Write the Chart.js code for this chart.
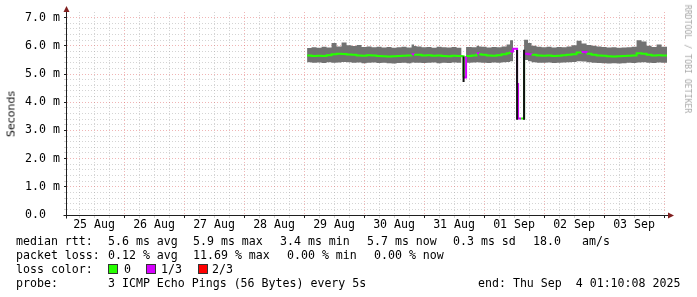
<!DOCTYPE html>
<html><head><meta charset="utf-8">
<script src="https://cdn.jsdelivr.net/npm/chart.js@4.4.1/dist/chart.umd.min.js"></script>
<style>
html,body{margin:0;padding:0;background:#fff;}
#wrap{position:relative;width:697px;height:297px;overflow:hidden;background:#fff;}
#box{position:absolute;left:0;top:0;width:697px;height:297px;}
.t{position:absolute;font-family:'DejaVu Sans Mono',monospace;font-size:11.6px;line-height:14px;color:#000;white-space:pre;}
.sw{position:absolute;width:8px;height:8px;border:1px solid #333;}
#ytitle{position:absolute;left:11px;top:114px;transform:translate(-50%,-50%) rotate(-90deg);font-family:'DejaVu Sans',sans-serif;font-size:11px;color:#111;white-space:nowrap;}
#wm{position:absolute;left:688px;top:59px;transform:translate(-50%,-50%) rotate(90deg);font-family:'DejaVu Sans Mono',monospace;font-size:8.2px;color:#a8a8a8;white-space:pre;}
</style></head>
<body>
<div id="wrap">
<div id="box"><canvas id="c"></canvas></div>
<div id="ytitle">Seconds</div>
<div id="wm">RRDTOOL / TOBI OETIKER</div>
<div class="t" style="left:16px;top:234px">median rtt:</div>
<div class="t" style="left:108px;top:234px">5.6 ms avg</div>
<div class="t" style="left:193px;top:234px">5.9 ms max</div>
<div class="t" style="left:280px;top:234px">3.4 ms min</div>
<div class="t" style="left:367px;top:234px">5.7 ms now</div>
<div class="t" style="left:453px;top:234px">0.3 ms sd</div>
<div class="t" style="left:533px;top:234px">18.0</div>
<div class="t" style="left:582px;top:234px">am/s</div>
<div class="t" style="left:16px;top:248px">packet loss:</div>
<div class="t" style="left:108px;top:248px">0.12 % avg</div>
<div class="t" style="left:193px;top:248px">11.69 % max</div>
<div class="t" style="left:287px;top:248px">0.00 % min</div>
<div class="t" style="left:374px;top:248px">0.00 % now</div>
<div class="t" style="left:16px;top:262px">loss color:</div>
<div class="sw" style="left:108px;top:264px;background:#26ff00"></div>
<div class="t" style="left:124px;top:262px">0</div>
<div class="sw" style="left:146px;top:264px;background:#d600ff"></div>
<div class="t" style="left:161px;top:262px">1/3</div>
<div class="sw" style="left:198px;top:264px;background:#ff0000"></div>
<div class="t" style="left:212px;top:262px">2/3</div>
<div class="t" style="left:16px;top:276px">probe:</div>
<div class="t" style="left:108px;top:276px">3 ICMP Echo Pings (56 Bytes) every 5s</div>
<div class="t" style="left:478px;top:276px">end: Thu Sep  4 01:10:08 2025</div>
</div>
<script>
// time axis: hours since 25 Aug 00:00
const hours = [97.2,99,101,103,105,107,109,111,113,115,117,119,121,123,125,127,129,131,133,135,137,139,140,141,143,145,147,149,151,153,155,157,159,159.8,160.8,163,165,166,167,169,171,173,175,177,178.4,179.6,181.2,181.6,182.8,184,185.6,187,189,191,193,195,197,199,201,203,205,207,209,211,213,215,217,219,221,223,225,227,229,231,233,235,237,239,241.2];
const smokeHigh = [5.92,5.95,5.93,5.97,5.94,6.10,5.98,6.12,6.02,5.99,6.03,5.96,5.98,5.95,5.97,5.94,5.96,5.93,5.95,5.97,5.94,6.05,5.99,5.98,5.95,5.96,5.93,5.97,5.95,5.94,5.96,5.93,5.95,null,5.96,5.95,6.00,5.98,5.97,5.94,5.96,5.95,5.98,6.05,6.20,6.40,null,null,null,6.22,6.10,6.00,5.97,5.95,5.97,5.94,5.96,5.95,5.98,6.02,6.18,6.08,6.03,6.00,5.98,5.96,5.94,5.95,5.93,5.94,5.95,5.97,6.20,6.15,6.00,5.96,6.05,5.97,5.97];
const smokeLow = [5.42,5.40,5.41,5.39,5.42,5.40,5.41,5.43,5.42,5.40,5.41,5.38,5.40,5.41,5.39,5.40,5.38,5.37,5.39,5.40,5.38,5.41,5.40,5.40,5.39,5.40,5.41,5.38,5.40,5.39,5.41,5.40,5.39,null,5.40,5.41,5.42,5.41,5.40,5.39,5.41,5.40,5.42,5.43,5.45,5.50,null,null,null,5.50,5.45,5.42,5.40,5.40,5.41,5.39,5.40,5.41,5.42,5.43,5.45,5.44,5.42,5.40,5.39,5.38,5.37,5.38,5.37,5.38,5.40,5.39,5.41,5.42,5.40,5.39,5.41,5.40,5.40];
const medianRtt = [5.66,5.64,5.65,5.64,5.67,5.70,5.72,5.71,5.69,5.68,5.66,5.65,5.67,5.66,5.64,5.63,5.62,5.63,5.64,5.65,5.66,5.70,5.68,5.68,5.66,5.67,5.65,5.66,5.64,5.63,5.65,5.64,5.63,4.88,5.64,5.66,5.74,5.70,5.68,5.66,5.65,5.67,5.70,5.74,5.80,5.90,4.65,3.42,3.42,5.72,5.70,5.68,5.66,5.65,5.66,5.64,5.65,5.67,5.68,5.70,5.76,5.78,5.72,5.68,5.66,5.65,5.63,5.62,5.63,5.64,5.65,5.66,5.74,5.72,5.68,5.66,5.67,5.66,5.66];
const lossLevel = [0,0,0,0,0,0,0,0,0,0,0,0,0,0,0,0,0,0,0,0,0,1,0,0,0,0,0,0,0,0,0,0,0,1,0,0,1,0,0,0,0,0,0,0,1,1,1,1,0,1,1,0,0,0,0,0,0,0,0,0,0,1,0,0,0,0,0,0,0,0,0,0,0,0,0,0,0,0,0];
const dipHours = [159.8,159.8,170,181.2,181.2,182.5,184,184];
const dipValues = [5.62,4.72,null,5.85,3.38,null,3.38,5.86];
const lossColors = ['#26ff00','#d600ff','#ff0000'];
const dayLabels = ['25 Aug','26 Aug','27 Aug','28 Aug','29 Aug','30 Aug','31 Aug','01 Sep','02 Sep','03 Sep'];
const yTickLabels = ['0.0  ','1.0 m','2.0 m','3.0 m','4.0 m','5.0 m','6.0 m','7.0 m'];
const xMin = 1.17, xMax = 241.17, yMin = 0, yMax = 7.2;

const pts = (xs, ys) => xs.map((x, i) => ({x: x, y: ys[i]}));
const monoFont = {family: "'DejaVu Sans Mono', monospace", size: 11.6};
const minorGrid = 'rgba(160,160,160,0.45)';
const majorGrid = 'rgba(222,90,90,0.45)';
const isInt = v => Math.abs(v - Math.round(v)) < 1e-6;

const axisPlugin = {
  id: 'rrdAxes',
  afterDatasetsDraw(chart) {
    const ctx = chart.ctx, a = chart.chartArea;
    const L = Math.round(a.left) - 0.5, B = Math.round(a.bottom) + 0.5;
    ctx.save();
    ctx.strokeStyle = '#1f1f1f'; ctx.lineWidth = 1;
    ctx.beginPath();
    ctx.moveTo(L - 3, B); ctx.lineTo(a.right + 3, B);
    ctx.moveTo(L, B + 3); ctx.lineTo(L, a.top - 3);
    ctx.stroke();
    ctx.fillStyle = '#801f1f';
    ctx.beginPath();
    ctx.moveTo(L, a.top - 6); ctx.lineTo(L - 3, a.top); ctx.lineTo(L + 3, a.top); ctx.closePath(); ctx.fill();
    ctx.beginPath();
    ctx.moveTo(a.right + 7, B); ctx.lineTo(a.right + 1, B - 3); ctx.lineTo(a.right + 1, B + 3); ctx.closePath(); ctx.fill();
    ctx.restore();
  }
};

new Chart(document.getElementById('c'), {
  type: 'line',
  data: {
    datasets: [
      {data: pts(hours, smokeLow), stepped: true, borderColor: 'transparent', borderWidth: 0, pointRadius: 0, fill: false, order: 3, spanGaps: false},
      {data: pts(hours, smokeHigh), stepped: true, borderColor: 'transparent', borderWidth: 0, pointRadius: 0, fill: '-1', backgroundColor: '#727272', order: 2, spanGaps: false},
      {data: pts(hours, medianRtt), stepped: true, borderWidth: 2, pointRadius: 0, fill: false, order: 1,
        borderColor: lossColors[0],
        segment: {borderColor: c => lossColors[lossLevel[c.p0DataIndex]]}},
      {data: pts(dipHours, dipValues), borderColor: '#111', borderWidth: 2, pointRadius: 0, fill: false, order: 0, spanGaps: false}
    ]
  },
  options: {
    responsive: true, maintainAspectRatio: false, animation: false,
    layout: {padding: {left: 0, right: 30, top: 12, bottom: 0}},
    plugins: {legend: {display: false}, tooltip: {enabled: false}},
    scales: {
      x: {
        type: 'linear', min: xMin, max: xMax,
        afterFit: s => { s.height = 82; },
        afterBuildTicks: s => { const t = []; for (let v = 6; v <= 240; v += 6) t.push({value: v}); s.ticks = t; },
        ticks: {autoSkip: false, maxRotation: 0, padding: 0, color: '#000', font: monoFont,
          callback: v => (v % 24 === 12) ? dayLabels[(v - 12) / 24] : ''},
        grid: {color: c => (c.tick && c.tick.value % 24 === 0) ? majorGrid : minorGrid, lineWidth: 1, tickLength: 3,
          tickColor: c => (c.tick && c.tick.value % 24 === 0) ? '#1f1f1f' : minorGrid},
        border: {display: false, dash: [1, 2]}
      },
      y: {
        min: yMin, max: yMax,
        afterFit: s => { s.width = 67; },
        afterBuildTicks: s => { const t = []; for (let i = 0; i <= 35; i++) t.push({value: Math.round(i * 2) / 10}); s.ticks = t; },
        ticks: {autoSkip: false, padding: 4, color: '#000', font: monoFont,
          callback: v => isInt(v) ? yTickLabels[Math.round(v)] : ''},
        grid: {color: c => (c.tick && isInt(c.tick.value)) ? majorGrid : minorGrid, lineWidth: 1, tickLength: 3,
          tickColor: c => (c.tick && isInt(c.tick.value)) ? '#1f1f1f' : minorGrid},
        border: {display: false, dash: [1, 2]}
      }
    }
  },
  plugins: [axisPlugin]
});
</script>
</body></html>
